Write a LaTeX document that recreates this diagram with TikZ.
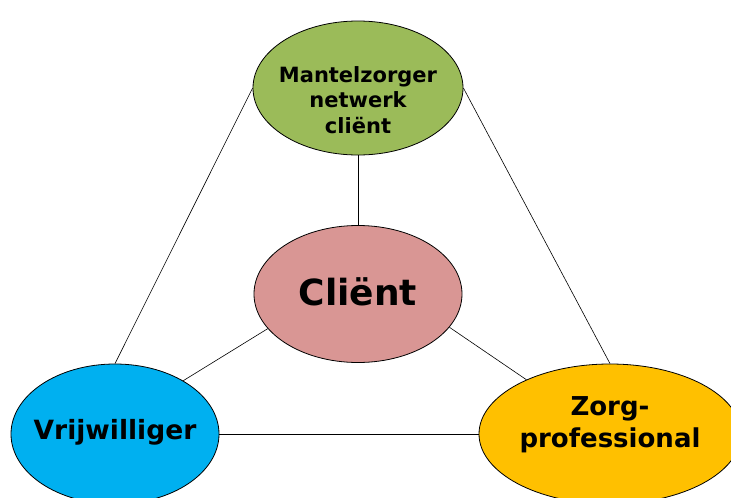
\documentclass[tikz,border=0pt]{standalone}
\usepackage{fontspec}
\setmainfont{DejaVu Sans}
\usetikzlibrary{shapes.geometric}
\definecolor{cgreen}{HTML}{9BBB59}
\definecolor{cpink}{HTML}{D99694}
\definecolor{cblue}{HTML}{00B0F0}
\definecolor{cyellow}{HTML}{FFC000}
\begin{document}
\begin{tikzpicture}[x=1pt,y=-1pt,
  blob/.style={ellipse,draw=black,line width=0.8pt,inner sep=0pt},
  lbl/.style={inner sep=0pt,align=center},
  link/.style={draw=black,line width=0.6pt}]
\useasboundingbox (0,0) rectangle (731,498);
\clip (0,0) rectangle (731,498);
\node[blob,fill=cgreen,minimum width=210pt,minimum height=134pt] (mz) at (358,88) {};
\node[blob,fill=cpink,minimum width=208pt,minimum height=137pt] (cl) at (358,294) {};
\node[blob,fill=cblue,minimum width=208pt,minimum height=140pt] (vw) at (115,434) {};
\node[blob,fill=cyellow,minimum width=262pt,minimum height=140pt] (zp) at (610,434) {};
\node[lbl,font=\bfseries\fontsize{21}{25.5}\selectfont] (mzt) at (358,100) {Mantelzorger\\netwerk\\cliënt};
\node[lbl,font=\bfseries\fontsize{36}{40}\selectfont] (clt) at (358,292) {Cliënt};
\node[lbl,font=\bfseries\fontsize{26.5}{32}\selectfont] (vwt) at (115,432) {Vrijwilliger};
\node[lbl,font=\bfseries\fontsize{26}{32}\selectfont] (zpt) at (610,425) {Zorg-\\professional};
\draw[link] (cl.north) -- (mz.south);
\draw[link] (mz.west) -- (vw.north);
\draw[link] (mz.east) -- (zp.north);
\draw[link] (vw.east) -- (zp.west);
\draw[link] (cl.-159) -- (vw.38);
\draw[link] (cl.-20) -- (zp.147);
\end{tikzpicture}
\end{document}
